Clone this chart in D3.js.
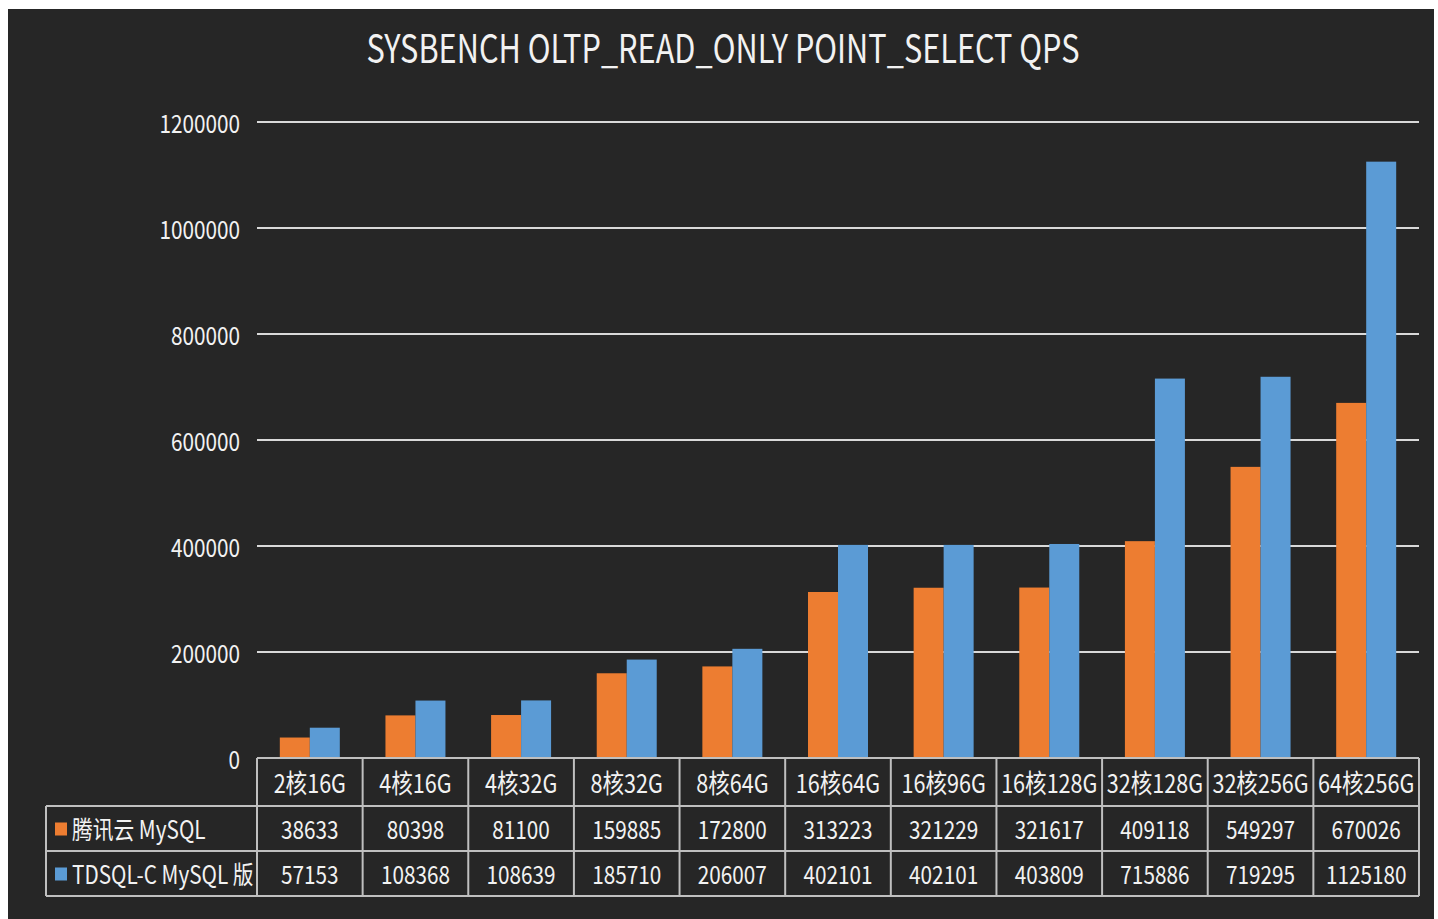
<!DOCTYPE html>
<html>
<head>
<meta charset="utf-8">
<script src="https://cdn.jsdelivr.net/npm/d3@7"></script>
<style>
	html, body { margin: 0; padding: 0; background: #ffffff; }
	svg { display: block; }
	text { font-family: "Noto Sans CJK SC", "Noto Sans", sans-serif; fill: #f2f2f2; }
</style>
</head>
<body>
<div id="chart"></div>
<script>
var categories = ["2核16G", "4核16G", "4核32G", "8核32G", "8核64G", "16核64G", "16核96G", "16核128G", "32核128G", "32核256G", "64核256G"];
var seriesNames = ["腾讯云 MySQL", "TDSQL-C MySQL 版"];
var tencentMysql = [38633, 80398, 81100, 159885, 172800, 313223, 321229, 321617, 409118, 549297, 670026];
var tdsqlMysql = [57153, 108368, 108639, 185710, 206007, 402101, 402101, 403809, 715886, 719295, 1125180];
var yTicks = [0, 200000, 400000, 600000, 800000, 1000000, 1200000];
var title = "SYSBENCH OLTP_READ_ONLY POINT_SELECT QPS";

var W = 1438, H = 919;
var COLORS = ["#ed7d31", "#5b9bd5"];
var GRID = "#d9d9d9";
var LINE = "#bfbfbf";
var SX = 0.83; //NARROW THE GLYPHS, SOURCE LOOKS LIKE CALIBRI

var svg = d3.select("#chart").append("svg")
	.attr("width", W)
	.attr("height", H);

//DARK PANEL
svg.append("rect")
	.attr("x", 8).attr("y", 9)
	.attr("width", 1426).attr("height", H - 9)
	.attr("fill", "#262626");

var plot = {left: 257, right: 1419, top: 122, bottom: 758};
var table = {left: 46, rows: [758, 806, 851, 896]};

var x = d3.scaleBand()
	.domain(categories)
	.range([plot.left, plot.right]);

var y = d3.scaleLinear()
	.domain([0, 1200000])
	.range([plot.bottom, plot.top]);

//TEXT DRAWN NARROWED: x IS IN SCREEN PIXELS
function label(txt, px, py, size, anchor){
	return svg.append("text")
		.attr("transform", "scale(" + SX + ",1)")
		.attr("x", px / SX).attr("y", py)
		.attr("text-anchor", anchor || "middle")
		.attr("dominant-baseline", "central")
		.style("font-size", size + "px")
		.text(txt);
}

//TITLE
svg.append("text")
	.attr("x", 723).attr("y", 46)
	.attr("text-anchor", "middle")
	.attr("dominant-baseline", "central")
	.attr("textLength", 713)
	.attr("lengthAdjust", "spacingAndGlyphs")
	.style("font-size", "39px")
	.text(title);

//GRID AND Y LABELS
yTicks.forEach(function(t){
	if (t > 0) {
		svg.append("line")
			.attr("x1", plot.left).attr("x2", plot.right)
			.attr("y1", y(t)).attr("y2", y(t))
			.attr("stroke", GRID).attr("stroke-width", 2);
	}//endif
	label(String(t), 240, y(t), 25, "end");
});

//BARS
var series = [tencentMysql, tdsqlMysql];
var barW = 30;
var bars = svg.append("g");
series.forEach(function(values, si){
	bars.selectAll("rect.s" + si)
		.data(values)
		.enter()
		.append("rect")
		.attr("class", "s" + si)
		.attr("x", function(d, i){
			return x(categories[i]) + x.bandwidth() / 2 - barW + si * barW;
		})
		.attr("y", function(d){ return y(d); })
		.attr("width", barW)
		.attr("height", function(d){ return y(0) - y(d); })
		.attr("fill", COLORS[si]);
});

//DATA TABLE
var tg = svg.append("g");
var hLines = [
	[plot.left, table.rows[0]],
	[table.left, table.rows[1]],
	[table.left, table.rows[2]],
	[table.left, table.rows[3]]
];
hLines.forEach(function(l){
	tg.append("line")
		.attr("x1", l[0]).attr("x2", plot.right)
		.attr("y1", l[1]).attr("y2", l[1])
		.attr("stroke", LINE).attr("stroke-width", 2);
});
tg.append("line")
	.attr("x1", table.left).attr("x2", table.left)
	.attr("y1", table.rows[1]).attr("y2", table.rows[3])
	.attr("stroke", LINE).attr("stroke-width", 2);
categories.concat([null]).forEach(function(c){
	var xx = c ? x(c) : plot.right;
	tg.append("line")
		.attr("x1", xx).attr("x2", xx)
		.attr("y1", table.rows[0]).attr("y2", table.rows[3])
		.attr("stroke", LINE).attr("stroke-width", 2);
});

//HEADER ROW
categories.forEach(function(c){
	label(c, x(c) + x.bandwidth() / 2, 782, 26);
});

//VALUE ROWS
series.forEach(function(values, si){
	var cy = (table.rows[si + 1] + table.rows[si + 2]) / 2;
	svg.append("rect")
		.attr("x", 55).attr("y", cy - 6)
		.attr("width", 12).attr("height", 13)
		.attr("fill", COLORS[si]);
	label(seriesNames[si], 72, cy, 25, "start");
	values.forEach(function(v, i){
		label(String(v), x(categories[i]) + x.bandwidth() / 2, cy, 25);
	});
});
</script>
</body>
</html>
